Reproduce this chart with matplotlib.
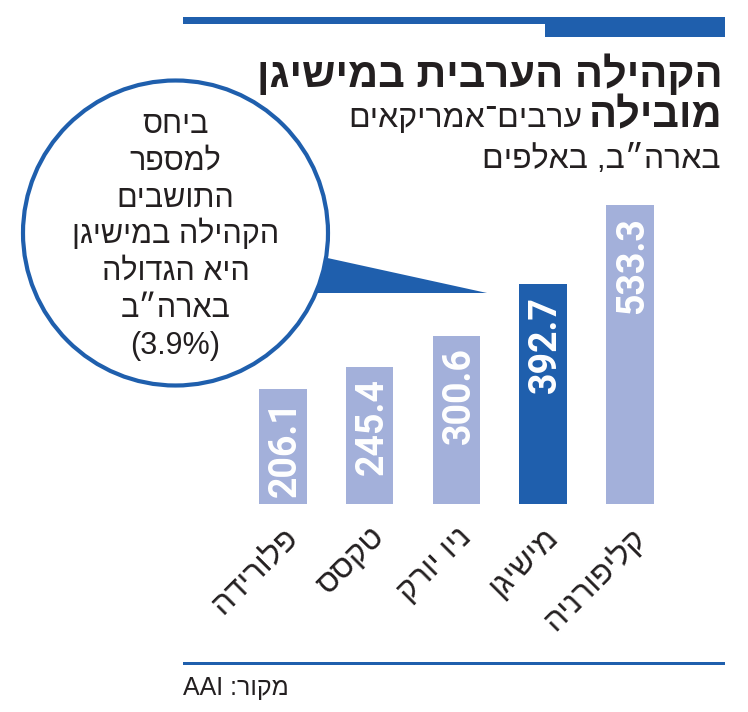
import matplotlib
matplotlib.use('Agg')
import matplotlib.pyplot as plt
from matplotlib.patches import Circle, Polygon, Rectangle

# נתונים
states = ['פלורידה', 'טקסס', 'ניו יורק', 'מישיגן', 'קליפורניה']
population = [206.1, 245.4, 300.6, 392.7, 533.3]
highlight = 'מישיגן'

title_line1 = 'הקהילה הערבית במישיגן'
title_bold2 = 'מובילה'
subtitle_line2 = 'ערבים־אמריקאים'
subtitle_line3 = 'בארה״ב, באלפים'
bubble_lines = ['ביחס', 'למספר', 'התושבים', 'הקהילה במישיגן', 'היא הגדולה', 'בארה״ב', '(3.9%)']
source_label = 'מקור:'
source_name = 'AAI'

BLUE = '#1f5fad'
LIGHT = '#a3b0da'
INK = '#231f20'
HEB = ['Liberation Sans', 'DejaVu Sans']
NUM = ['Roboto', 'DejaVu Sans']


def vis(s):
    # matplotlib אינו תומך ב-RTL, הופכים לסדר חזותי
    if s.startswith('('):
        return s
    return s[::-1]


fig = plt.figure(figsize=(7.48, 7.12), dpi=100)

# גרף העמודות - ממוקם בפיקסלים מתוך התמונה
ax = fig.add_axes([239.7 / 748, (712 - 504.3) / 712, 433.5 / 748, 336.6 / 712])
ax.set_zorder(1)
colors = [BLUE if s == highlight else LIGHT for s in states]
x = list(range(len(states)))
ax.bar(x, population, width=0.546, color=colors)
ax.set_xlim(-0.5, len(states) - 0.5)
ax.set_ylim(0, 600)
for sp in ax.spines.values():
    sp.set_visible(False)
ax.set_yticks([])
ax.set_xticks(x)
ax.set_xticklabels([vis(s) for s in states], rotation=45, ha='right',
                   rotation_mode='anchor', fontsize=23, family=HEB, color=INK)
ax.tick_params(axis='x', length=0, pad=13)
ax.patch.set_alpha(0)

for xi, v in zip(x, population):
    ax.text(xi + 0.03, v - 21, f'{v:.1f}', rotation=90, rotation_mode='anchor',
            ha='right', va='center', color='white', fontsize=27,
            fontweight='bold', family=NUM)

# שכבת עיטורים בקואורדינטות פיקסלים
ov = fig.add_axes([0, 0, 1, 1])
ov.set_zorder(2)
ov.set_xlim(0, 748)
ov.set_ylim(712, 0)
ov.axis('off')
ov.patch.set_alpha(0)

ov.add_patch(Rectangle((183, 17), 542, 7, color=BLUE, lw=0))
ov.add_patch(Rectangle((545, 17), 180, 20, color=BLUE, lw=0))
ov.add_patch(Rectangle((183, 661.5), 542, 3, color=BLUE, lw=0))

ov.add_patch(Polygon([(250, 241), (487, 293), (250, 293)], closed=True,
                     color=BLUE, lw=0, zorder=1))
ov.add_patch(Circle((175.5, 233), 152.5, fc='white', ec=BLUE, lw=3, zorder=2))

for i, line in enumerate(bubble_lines):
    ov.text(175.5, 133 + 36.8 * i, vis(line), ha='center', va='baseline',
            fontsize=22, family=HEB, color=INK, zorder=3)

ov.text(723, 87, vis(title_line1), ha='right', va='baseline', fontsize=30,
        fontweight='bold', family=HEB, color=INK)
t_bold = ov.text(723, 127, vis(title_bold2), ha='right', va='baseline', fontsize=30,
                 fontweight='bold', family=HEB, color=INK)
ov.text(721, 168, vis(subtitle_line3), ha='right', va='baseline', fontsize=23,
        family=HEB, color=INK)

# הכותרת המשנית נצמדת משמאל למילה המודגשת
fig.canvas.draw()
bb = t_bold.get_window_extent()
x_left = ov.transData.inverted().transform((bb.x0, bb.y0))[0]
ov.text(x_left - 7, 127, vis(subtitle_line2), ha='right', va='baseline', fontsize=23,
        family=HEB, color=INK)

ov.text(183, 695, f'{source_name} {vis(source_label)}', ha='left', va='baseline',
        fontsize=18, family=HEB, color=INK)

fig.savefig('out.png', dpi=100, facecolor='white')
